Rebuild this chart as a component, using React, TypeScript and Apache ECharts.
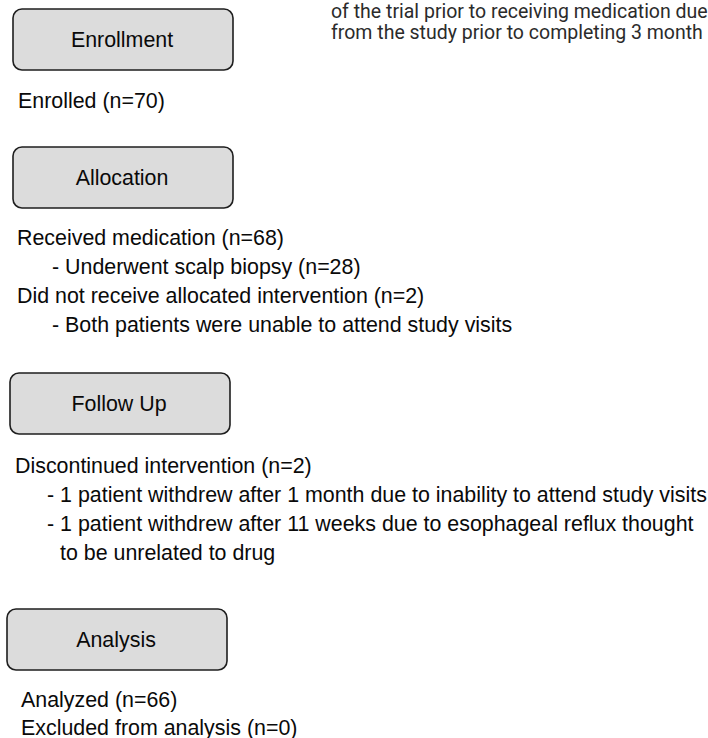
import React, { useEffect, useRef } from "react";
import * as echarts from "echarts";

// ---- content (data) ----
const stageTitles = ["Enrollment", "Allocation", "Follow Up", "Analysis"];

// note text, cut off at the right edge as in the source
const noteLines = [
  "of the trial prior to receiving medication due",
  "from the study prior to completing 3 month",
];

const enrollmentLines = ["Enrolled (n=70)"];

const allocationLines = [
  "Received medication (n=68)",
  "- Underwent scalp biopsy (n=28)",
  "Did not receive allocated intervention (n=2)",
  "- Both patients were unable to attend study visits",
];

const followUpLines = [
  "Discontinued intervention (n=2)",
  "- 1 patient withdrew after 1 month due to inability to attend study visits",
  "- 1 patient withdrew after 11 weeks due to esophageal reflux thought",
  "to be unrelated to drug",
];

const analysisLines = ["Analyzed (n=66)", "Excluded from analysis (n=0)"];

// ---- layout (positions / sizes) ----
const boxes = [
  { x: 13, y: 9, w: 220, h: 61 },
  { x: 13, y: 147, w: 220, h: 61 },
  { x: 10, y: 373, w: 220, h: 61 },
  { x: 7, y: 609, w: 220, h: 61 },
];

const blockLayouts = [
  { lines: enrollmentLines, xs: [18], ys: [101] },
  { lines: allocationLines, xs: [17, 52, 17, 52], ys: [238, 267, 296, 325] },
  { lines: followUpLines, xs: [15, 47, 47, 60], ys: [466, 495, 524, 553] },
  { lines: analysisLines, xs: [21, 21], ys: [700, 728] },
];

const FONT = "'Liberation Sans', Arial, Helvetica, sans-serif";

export default function App() {
  const ref = useRef<HTMLDivElement>(null);

  useEffect(() => {
    if (!ref.current) return;
    const chart = echarts.init(ref.current, undefined, { renderer: "svg" });

    const elements: any[] = [];

    boxes.forEach((b, i) => {
      elements.push({
        type: "rect",
        shape: { x: b.x, y: b.y, width: b.w, height: b.h, r: 9 },
        style: { fill: "#dcdcdc", stroke: "#1e1e1e", lineWidth: 1.6 },
        z: 1,
      });
      elements.push({
        type: "text",
        x: b.x + b.w / 2 - 1,
        y: b.y + b.h / 2,
        style: {
          text: stageTitles[i],
          font: `21.4px ${FONT}`,
          fill: "#0a0a0a",
          align: "center",
          verticalAlign: "middle",
        },
        z: 2,
      });
    });

    blockLayouts.forEach((blk) => {
      blk.lines.forEach((t, j) => {
        elements.push({
          type: "text",
          x: blk.xs[j],
          y: blk.ys[j],
          style: {
            text: t,
            font: `21.4px ${FONT}`,
            fill: "#0a0a0a",
            align: "left",
            verticalAlign: "middle",
          },
          z: 2,
        });
      });
    });

    const noteYs = [11, 32];
    noteLines.forEach((t, j) => {
      elements.push({
        type: "text",
        x: 331,
        y: noteYs[j],
        style: {
          text: t,
          font: `19.5px Roboto, 'Noto Sans', sans-serif`,
          fill: "#2b2b2b",
          align: "left",
          verticalAlign: "middle",
        },
        z: 2,
      });
    });

    chart.setOption({
      animation: false,
      backgroundColor: "#ffffff",
      graphic: { elements },
    });

    return () => chart.dispose();
  }, []);

  return (
    <div
      ref={ref}
      style={{
        position: "fixed",
        left: 0,
        top: 0,
        width: 708,
        height: 738,
        background: "#fff",
      }}
    />
  );
}
